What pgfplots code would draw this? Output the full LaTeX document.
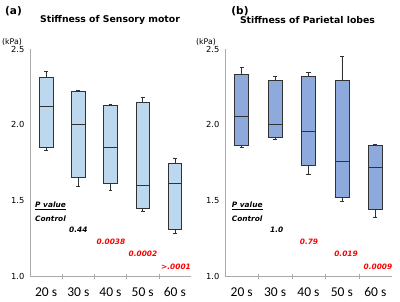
\documentclass[border=0pt]{standalone}
\usepackage{fontspec}
\setmainfont{DejaVu Sans}
\newfontfamily\calib{Carlito}
\usepackage{pgfplots}
\pgfplotsset{compat=1.18}
\usepgfplotslibrary{statistics}
\definecolor{boxA}{RGB}{189,215,238}
\definecolor{boxB}{RGB}{142,169,219}
\definecolor{axgray}{RGB}{170,170,170}
\definecolor{bord}{RGB}{50,50,50}
\pgfplotsset{mystyle/.style={
  scale only axis, height=227bp,
  xmin=-0.5, xmax=4.5, ymin=1, ymax=2.5,
  axis x line=bottom, axis y line=left,
  axis line style={axgray,-},
  xtick={0,...,4}, xticklabels={20 s,30 s,40 s,50 s,60 s},
  x tick label style={font=\calib\fontsize{13.5bp}{14bp}\selectfont, yshift=-6bp},
  major x tick style={draw=none},
  minor xtick={0.5,1.5,2.5,3.5}, minor tick length=5bp, minor x tick style={axgray},
  tick align=center,
  ytick={1,1.5,2,2.5}, yticklabels={1.0,1.5,2.0,2.5},
  major y tick style={draw=none},
  y tick label style={font=\fontsize{8.3bp}{9bp}\selectfont},
  /pgf/number format/assume math mode=true,
  boxplot/draw direction=y,
  boxplot/box extend=0.42, boxplot/whisker extend=0.12,
  clip=false,
}}
\begin{document}
\begin{tikzpicture}
\useasboundingbox (0,0) rectangle (400bp,-302bp);
% (a)
\begin{axis}[mystyle, width=161bp, at={(30bp,-276bp)}, anchor=south west]
\addplot[boxplot prepared={draw position=0, lower whisker=1.83, lower quartile=1.85, median=2.12, upper quartile=2.31, upper whisker=2.35}, fill=boxA, draw=bord, line width=0.7pt] coordinates {};
\addplot[boxplot prepared={draw position=1, lower whisker=1.59, lower quartile=1.65, median=2.00, upper quartile=2.22, upper whisker=2.225}, fill=boxA, draw=bord, line width=0.7pt] coordinates {};
\addplot[boxplot prepared={draw position=2, lower whisker=1.565, lower quartile=1.61, median=1.85, upper quartile=2.13, upper whisker=2.135}, fill=boxA, draw=bord, line width=0.7pt] coordinates {};
\addplot[boxplot prepared={draw position=3, lower whisker=1.43, lower quartile=1.45, median=1.60, upper quartile=2.145, upper whisker=2.18}, fill=boxA, draw=bord, line width=0.7pt] coordinates {};
\addplot[boxplot prepared={draw position=4, lower whisker=1.28, lower quartile=1.31, median=1.61, upper quartile=1.745, upper whisker=1.78}, fill=boxA, draw=bord, line width=0.7pt] coordinates {};
\end{axis}
% (b)
\begin{axis}[mystyle, width=167bp, at={(225bp,-276bp)}, anchor=south west]
\addplot[boxplot prepared={draw position=0, lower whisker=1.85, lower quartile=1.865, median=2.055, upper quartile=2.33, upper whisker=2.38}, fill=boxB, draw=bord, line width=0.7pt] coordinates {};
\addplot[boxplot prepared={draw position=1, lower whisker=1.905, lower quartile=1.915, median=2.00, upper quartile=2.295, upper whisker=2.32}, fill=boxB, draw=bord, line width=0.7pt] coordinates {};
\addplot[boxplot prepared={draw position=2, lower whisker=1.675, lower quartile=1.73, median=1.955, upper quartile=2.32, upper whisker=2.345}, fill=boxB, draw=bord, line width=0.7pt] coordinates {};
\addplot[boxplot prepared={draw position=3, lower whisker=1.495, lower quartile=1.52, median=1.755, upper quartile=2.295, upper whisker=2.45}, fill=boxB, draw=bord, line width=0.7pt] coordinates {};
\addplot[boxplot prepared={draw position=4, lower whisker=1.39, lower quartile=1.44, median=1.72, upper quartile=1.865, upper whisker=1.868}, fill=boxB, draw=bord, line width=0.7pt] coordinates {};
\end{axis}
% titles
\node[font=\bfseries\fontsize{10.5bp}{11bp}\selectfont] at (13.5bp,-11bp) {(a)};
\node[font=\bfseries\fontsize{10.5bp}{11bp}\selectfont] at (240bp,-11bp) {(b)};
\node[font=\bfseries\fontsize{9.3bp}{10bp}\selectfont] at (110bp,-20bp) {Stiffness of Sensory motor};
\node[font=\bfseries\fontsize{9.3bp}{10bp}\selectfont] at (307.5bp,-20bp) {Stiffness of Parietal lobes};
\node[font=\fontsize{7.8bp}{8bp}\selectfont] at (12bp,-41.7bp) {(kPa)};
\node[font=\fontsize{7.8bp}{8bp}\selectfont] at (206bp,-41.7bp) {(kPa)};
% p values
\begin{scope}[every node/.style={font=\bfseries\itshape\fontsize{7.4bp}{8bp}\selectfont, inner sep=0pt}]
\node[anchor=west] at (35bp,-206bp) {\underline{P value}};
\node[anchor=west] at (35bp,-218.3bp) {Control};
\node at (78.3bp,-230bp) {0.44};
\node[red] at (111bp,-241.7bp) {0.0038};
\node[red] at (143bp,-254.3bp) {0.0002};
\node[red] at (176bp,-266.7bp) {>.0001};
\node[anchor=west] at (231.7bp,-206bp) {\underline{P value}};
\node[anchor=west] at (231.7bp,-218.5bp) {Control};
\node at (276.7bp,-230bp) {1.0};
\node[red] at (309bp,-242bp) {0.79};
\node[red] at (346bp,-254.3bp) {0.019};
\node[red] at (378bp,-266.7bp) {0.0009};
\end{scope}
\end{tikzpicture}
\end{document}
